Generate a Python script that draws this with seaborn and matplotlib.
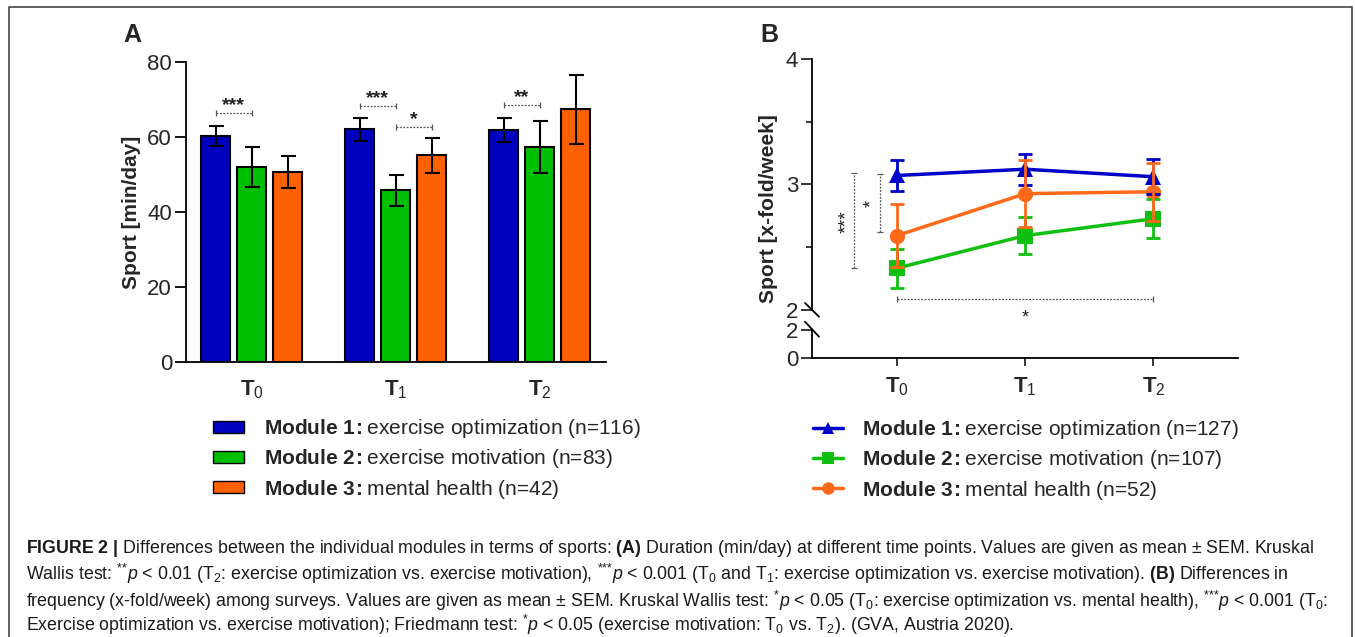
import numpy as np
import pandas as pd
import matplotlib
matplotlib.use("Agg")
import matplotlib.pyplot as plt
import matplotlib.transforms as mtransforms
from matplotlib.lines import Line2D
from matplotlib.patches import Patch
import seaborn as sns

# ---------------- data ----------------
time_points = ["T0", "T1", "T2"]
time_tick_labels = [r"$\mathbf{T}_{0}$", r"$\mathbf{T}_{1}$", r"$\mathbf{T}_{2}$"]
modules = ["Module 1", "Module 2", "Module 3"]
module_desc = ["exercise optimization", "exercise motivation", "mental health"]
n_duration = [116, 83, 42]
n_frequency = [127, 107, 52]

# Panel A: duration (min/day), mean and SEM
dur_m1 = [60.4, 62.1, 61.9]
dur_m2 = [52.1, 45.8, 57.4]
dur_m3 = [50.6, 55.1, 67.5]
dur_m1_sem = [2.7, 3.1, 3.3]
dur_m2_sem = [5.3, 4.2, 7.0]
dur_m3_sem = [4.3, 4.6, 9.2]

# Panel B: frequency (x-fold/week), mean and SEM
freq_m1 = [3.07, 3.12, 3.06]
freq_m2 = [2.33, 2.59, 2.725]
freq_m3 = [2.59, 2.925, 2.94]
freq_m1_sem = [0.12, 0.125, 0.14]
freq_m2_sem = [0.155, 0.15, 0.155]
freq_m3_sem = [0.25, 0.265, 0.23]

# significance annotations panel A: (time index, module i, module j, bracket y, label y, label)
sig_a = [(0, 0, 1, 66.4, 70.2, "***"),
         (1, 0, 1, 68.2, 72.1, "***"),
         (1, 1, 2, 62.8, 66.6, "*"),
         (2, 0, 1, 68.6, 72.5, "**")]

colors_a = ["#0000BE", "#00BE00", "#FF6000"]
colors_b = ["#0000C8", "#10C010", "#FF6A1A"]
markers_b = ["^", "s", "o"]

# ---------------- style ----------------
sns.set_theme(style="ticks")
plt.rcParams["font.family"] = ["Liberation Sans", "DejaVu Sans"]
plt.rcParams["mathtext.fontset"] = "custom"
plt.rcParams["mathtext.rm"] = "Liberation Sans"
plt.rcParams["mathtext.bf"] = "Liberation Sans:bold"
plt.rcParams["mathtext.it"] = "Liberation Sans:italic"
plt.rcParams["mathtext.sf"] = "Liberation Sans"
plt.rcParams["axes.linewidth"] = 1.3

W, H = 1355, 637
fig = plt.figure(figsize=(W / 100, H / 100), dpi=100)
fig.patch.set_facecolor("white")


def fx(px):
    return px / W


def fy(py):
    return 1 - py / H


# ---------------- Panel A ----------------
axA = fig.add_axes([fx(186), fy(361.7), (605.7 - 186) / W, (361.7 - 62.3) / H])
dfA = pd.DataFrame({
    "time": time_points * 3,
    "module": np.repeat(modules, 3),
    "value": dur_m1 + dur_m2 + dur_m3,
})
sns.barplot(data=dfA, x="time", y="value", hue="module", order=time_points,
            hue_order=modules, palette=colors_a, width=0.75, gap=0.2,
            edgecolor="black", linewidth=1.5, errorbar=None, saturation=1,
            legend=False, ax=axA)
means_a = [dur_m1, dur_m2, dur_m3]
sems_a = [dur_m1_sem, dur_m2_sem, dur_m3_sem]
centers = []
for cont, mvals, svals in zip(axA.containers, means_a, sems_a):
    cx = [b.get_x() + b.get_width() / 2 for b in cont]
    centers.append(cx)
    axA.errorbar(cx, mvals, yerr=svals, fmt="none", ecolor="black",
                 elinewidth=1.5, capsize=5.4, capthick=1.5, zorder=5)

axA.set_ylim(0, 80)
axA.set_xlim(-0.456, 2.458)
axA.set_yticks([0, 20, 40, 60, 80])
axA.set_xticks(range(3))
axA.set_xticklabels(time_tick_labels)
axA.tick_params(axis="y", length=8, width=1.3, labelsize=16, pad=2, color="black")
axA.tick_params(axis="x", length=0, labelsize=16, pad=12)
axA.set_xlabel("")
axA.set_ylabel("")
sns.despine(ax=axA)
for s in ["left", "bottom"]:
    axA.spines[s].set_color("black")

fsA = 14
for t, i, j, yb, yl, lab in sig_a:
    x1, x2 = centers[i][t], centers[j][t]
    axA.plot([x1, x2], [yb, yb], color="#555555", lw=0.9, ls=(0, (1.5, 1.2)))
    axA.plot([x1, x2], [yb, yb], ls="none", marker="|", ms=4, mew=0.9, color="#555555")
    tr = mtransforms.offset_copy(axA.transData, fig=fig, y=-0.58 * fsA, units="points")
    axA.text((x1 + x2) / 2, yl, lab, transform=tr, ha="center", va="baseline",
             fontsize=fsA, fontweight="bold", color="#222222")

fig.text(fx(131.7), fy(212), "Sport [min/day]", rotation=90, ha="center",
         va="center", fontsize=15, fontweight="bold")
fig.text(fx(123), fy(35), "A", fontsize=18, fontweight="bold", ha="left", va="center")

handles_a = [Patch(facecolor=c, edgecolor="black", linewidth=1) for c in colors_a]
labels_a = [rf"$\mathbf{{Module\ {k + 1}\!:}}\hspace{{0.08}}$" + f"{d} (n={n})"
            for k, (d, n) in enumerate(zip(module_desc, n_duration))]
fig.legend(handles_a, labels_a, loc="upper left", bbox_to_anchor=(fx(213), fy(417)),
           frameon=False, fontsize=15, handlelength=1.5, handleheight=0.5,
           handletextpad=0.95, labelspacing=0.35, borderpad=0, borderaxespad=0)

# ---------------- Panel B ----------------
axB = fig.add_axes([fx(812), fy(309.5), 426 / W, (309.5 - 59) / H])
axB2 = fig.add_axes([fx(812), fy(358.3), 426 / W, (358.3 - 330) / H])
xlimB = (-0.663, 2.66)

dfB = pd.DataFrame({
    "t": [0, 1, 2] * 3,
    "module": np.repeat(modules, 3),
    "value": freq_m1 + freq_m2 + freq_m3,
})
sns.lineplot(data=dfB, x="t", y="value", hue="module", style="module",
             hue_order=modules, style_order=modules, palette=colors_b,
             markers=dict(zip(modules, markers_b)), dashes=False,
             markersize=11, linewidth=2.5, markeredgewidth=0, legend=False, ax=axB)
means_b = [freq_m1, freq_m2, freq_m3]
sems_b = [freq_m1_sem, freq_m2_sem, freq_m3_sem]
for k, (mv, sv, c) in enumerate(zip(means_b, sems_b, colors_b)):
    axB.errorbar([0, 1, 2], mv, yerr=sv, fmt="none", ecolor=c, elinewidth=2,
                 capsize=5, capthick=2, zorder=2)

axB.set_ylim(2, 4)
axB.set_xlim(*xlimB)
axB.set_yticks([2, 3, 4])
axB.set_yticks([2.5, 3.5], minor=True)
axB.tick_params(axis="y", which="major", length=8, width=1.3, labelsize=16, pad=2)
axB.tick_params(axis="y", which="minor", length=4.5, width=1.3)
axB.tick_params(axis="x", bottom=False, labelbottom=False)
for tk in axB.yaxis.get_major_ticks():
    if abs(tk.get_loc() - 2) < 1e-9:
        tk.tick1line.set_visible(False)
axB.set_xlabel("")
axB.set_ylabel("")
for s in ["top", "right", "bottom"]:
    axB.spines[s].set_visible(False)
axB.spines["left"].set_color("black")

axB2.set_ylim(0, 2)
axB2.set_xlim(*xlimB)
axB2.set_yticks([0, 2])
axB2.set_xticks([0, 1, 2])
axB2.set_xticklabels(time_tick_labels)
axB2.tick_params(axis="y", length=8, width=1.3, labelsize=16, pad=2)
axB2.tick_params(axis="x", length=5.5, width=1.3, labelsize=16, pad=7)
for tk in axB2.yaxis.get_major_ticks():
    if abs(tk.get_loc() - 2) < 1e-9:
        tk.tick1line.set_visible(False)
for s in ["top", "right"]:
    axB2.spines[s].set_visible(False)
for s in ["left", "bottom"]:
    axB2.spines[s].set_color("black")
axB2.patch.set_alpha(0)

# axis break marks
for (x0, y0, x1, y1) in [(805, 303, 819, 316.7), (805, 321.7, 819, 336.7)]:
    fig.add_artist(Line2D([fx(x0), fx(x1)], [fy(y0), fy(y1)], color="black", lw=1.3))

# significance annotations panel B
sig_col = "#555555"
for xv, y0, y1 in [(-0.333, 2.33, 3.09), (-0.133, 2.616, 3.085)]:
    axB.plot([xv, xv], [y0, y1], color=sig_col, lw=0.9, ls=(0, (1.5, 1.2)), clip_on=False)
    axB.plot([xv, xv], [y0, y1], ls="none", marker="_", ms=4, mew=0.9, color=sig_col, clip_on=False)
for xv, yv, lab, fsB in [(-0.445, 2.70, "***", 14), (-0.242, 2.85, "*", 13)]:
    tr = mtransforms.offset_copy(axB.transData, fig=fig, x=0.58 * fsB, units="points")
    axB.text(xv, yv, lab, transform=tr, rotation=90, rotation_mode="anchor",
             ha="center", va="baseline", fontsize=fsB, color="#222222")
axB.plot([0, 2], [2.085, 2.085], color=sig_col, lw=0.9, ls=(0, (1.5, 1.2)), clip_on=False)
axB.plot([0, 2], [2.085, 2.085], ls="none", marker="|", ms=4, mew=0.9, color=sig_col, clip_on=False)
trb = mtransforms.offset_copy(axB.transData, fig=fig, y=-0.58 * 13, units="points")
axB.text(1, 1.98, "*", transform=trb, ha="center", va="baseline", fontsize=13,
         color="#222222", clip_on=False)

fig.text(fx(768), fy(209), "Sport [x-fold/week]", rotation=90, ha="center",
         va="center", fontsize=15, fontweight="bold")
fig.text(fx(760), fy(35), "B", fontsize=18, fontweight="bold", ha="left", va="center")

handles_b = [Line2D([], [], color=c, marker=m, lw=2.5, ms=9, mew=0)
             for c, m in zip(colors_b, markers_b)]
labels_b = [rf"$\mathbf{{Module\ {k + 1}\!:}}\hspace{{0.08}}$" + f"{d} (n={n})"
            for k, (d, n) in enumerate(zip(module_desc, n_frequency))]
fig.legend(handles_b, labels_b, loc="upper left", bbox_to_anchor=(fx(813), fy(418)),
           frameon=False, fontsize=15, handlelength=1.45, handletextpad=0.9,
           labelspacing=0.35, borderpad=0, borderaxespad=0)

# ---------------- caption & frame ----------------
caption_lines = [
    r"$\mathbf{FIGURE\ 2\ |}$ Differences between the individual modules in terms of sports: $\mathbf{(A)}$ Duration (min/day) at different time points. Values are given as mean ± SEM. Kruskal",
    r"Wallis test: $^{{*}{*}}\mathit{p}$ < 0.01 (T$_{2}$: exercise optimization vs. exercise motivation), $^{{*}{*}{*}}\mathit{p}$ < 0.001 (T$_{0}$ and T$_{1}$: exercise optimization vs. exercise motivation). $\mathbf{(B)}$ Differences in",
    r"frequency (x-fold/week) among surveys. Values are given as mean ± SEM. Kruskal Wallis test: $^{*}\mathit{p}$ < 0.05 (T$_{0}$: exercise optimization vs. mental health), $^{{*}{*}{*}}\mathit{p}$ < 0.001 (T$_{0}$:",
    r"Exercise optimization vs. exercise motivation); Friedmann test: $^{*}\mathit{p}$ < 0.05 (exercise motivation: T$_{0}$ vs. T$_{2}$). (GVA, Austria 2020).",
]
for line, base in zip(caption_lines, [553, 580, 607, 631]):
    fig.text(fx(26), fy(base), line, ha="left", va="baseline", fontsize=12.8, color="#1a1a1a")

fig.add_artist(Line2D([fx(9), fx(9), fx(1352), fx(1352)],
                      [fy(645), fy(7), fy(7), fy(645)], color="#444444", lw=1.2))

fig.savefig("out.png", dpi=100)
